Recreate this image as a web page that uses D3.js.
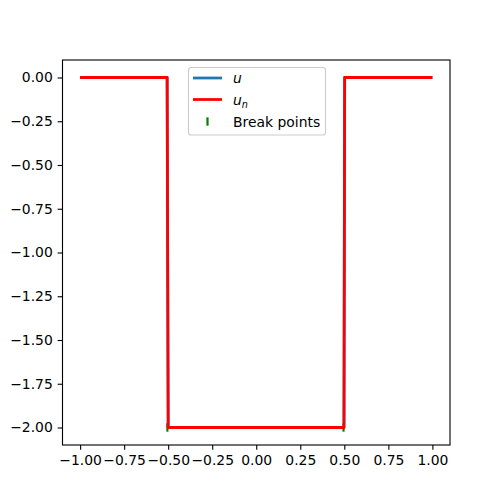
<!DOCTYPE html>
<html>
<head>
<meta charset="utf-8">
<script src="https://cdn.jsdelivr.net/npm/d3@7"></script>
<style>
  body { margin: 0; background: #fff; }
  svg { display: block; font-family: "DejaVu Sans", sans-serif; }
</style>
</head>
<body>
<div id="chart"></div>
<script>
// Data
const xs = [-1.0, -0.506, -0.5, 0.498, 0.502, 1.0];
const uVals = [0.0, 0.0, -2.0, -2.0, 0.0, 0.0];
const unVals = [0.0, 0.0, -2.0, -2.0, 0.0, 0.0];
const breakX = [-0.5, 0.5];
const breakY = [-2.0, -2.0];
const xTicks = [-1.0, -0.75, -0.5, -0.25, 0.0, 0.25, 0.5, 0.75, 1.0];
const yTicks = [0.0, -0.25, -0.5, -0.75, -1.0, -1.25, -1.5, -1.75, -2.0];

(function () {
const W = 500, H = 500;
const mL = 62.5, mR = 450, mT = 60, mB = 445;

const svg = d3.select("#chart").append("svg").attr("width", W).attr("height", H);

const x = d3.scaleLinear().domain([-1.1, 1.1]).range([mL, mR]);
const y = d3.scaleLinear().domain([-2.1, 0.1]).range([mB, mT]);

const fmt = v => d3.format(".2f")(v).replace("-", "\u2212");

// axes
const xAxis = d3.axisBottom(x).tickValues(xTicks).tickFormat(fmt).tickSize(4.86).tickPadding(4.86);
const yAxis = d3.axisLeft(y).tickValues(yTicks).tickFormat(fmt).tickSize(4.86).tickPadding(4.86);

const gx = svg.append("g").attr("transform", `translate(0,${mB})`).call(xAxis);
const gy = svg.append("g").attr("transform", `translate(${mL},0)`).call(yAxis);
[gx, gy].forEach(g => {
  g.select(".domain").remove();
  g.selectAll(".tick line").attr("stroke", "#000").attr("stroke-width", 1.11);
  g.selectAll(".tick text").attr("fill", "#000").style("font-size", "13.9px").style("font-family", "DejaVu Sans, sans-serif");
});

// break points markers '|'
svg.selectAll(".bp").data(breakX.map((v, i) => [v, breakY[i]])).enter().append("line")
  .attr("class", "bp")
  .attr("x1", d => x(d[0]) - 0.8).attr("x2", d => x(d[0]) - 0.8)
  .attr("y1", d => y(d[1]) - 4.17).attr("y2", d => y(d[1]) + 4.17)
  .attr("stroke", "#008000").attr("stroke-width", 2.2);

// lines
const line = d3.line().x(d => x(d[0])).y(d => y(d[1]));
const uData = xs.map((v, i) => [v, uVals[i]]);
const unData = xs.map((v, i) => [v, unVals[i]]);

svg.append("path").datum(uData).attr("d", line)
  .attr("fill", "none").attr("stroke", "#1f77b4").attr("stroke-width", 2.78)
  .attr("stroke-linejoin", "round").attr("stroke-linecap", "butt");
svg.append("path").datum(unData).attr("d", line)
  .attr("fill", "none").attr("stroke", "#ff0000").attr("stroke-width", 2.78)
  .attr("stroke-linejoin", "round").attr("stroke-linecap", "butt");

// spines
svg.append("rect").attr("x", mL).attr("y", mT).attr("width", mR - mL).attr("height", mB - mT)
  .attr("fill", "none").attr("stroke", "#000").attr("stroke-width", 1.11);

// legend
const lg = svg.append("g");
lg.append("rect").attr("x", 188.5).attr("y", 67.5).attr("width", 137).attr("height", 67.5)
  .attr("rx", 2.8).attr("fill", "#fff").attr("fill-opacity", 0.8)
  .attr("stroke", "#cccccc").attr("stroke-width", 1.11);

const legendItems = [
  { type: "line", color: "#1f77b4", label: "u", sub: null },
  { type: "line", color: "#ff0000", label: "u", sub: "n" },
  { type: "marker", color: "#008000", label: "Break points", sub: null }
];
const rowY = [78, 99.5, 121.5];
legendItems.forEach((it, i) => {
  const yy = rowY[i];
  if (it.type === "line") {
    lg.append("line").attr("x1", 193).attr("x2", 222).attr("y1", yy).attr("y2", yy)
      .attr("stroke", it.color).attr("stroke-width", 2.78);
  } else {
    lg.append("line").attr("x1", 207.5).attr("x2", 207.5).attr("y1", yy - 4.17).attr("y2", yy + 4.17)
      .attr("stroke", it.color).attr("stroke-width", 2.2);
  }
  const t = lg.append("text").attr("x", 233).attr("y", yy + 5).style("font-size", "13.9px").attr("fill", "#000");
  if (it.type === "line") {
    t.append("tspan").text(it.label).style("font-style", "italic");
    if (it.sub) {
      t.append("tspan").text(it.sub).style("font-style", "italic").style("font-size", "9.7px").attr("dy", 3);
    }
  } else {
    t.text(it.label);
  }
});
})();
</script>
</body>
</html>
